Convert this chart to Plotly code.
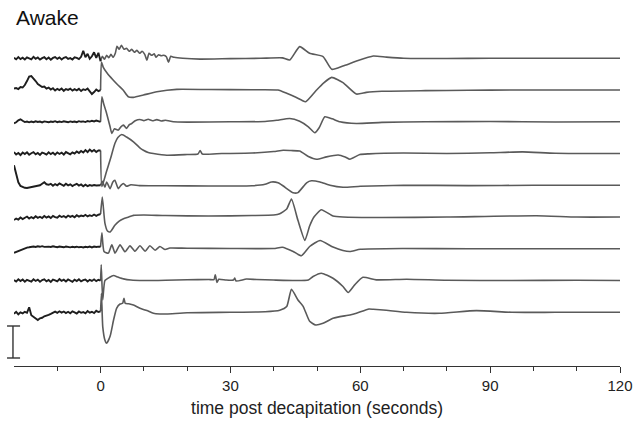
import plotly.graph_objects as go

# time grid of the noisy baseline before decapitation (seconds)
pre_t = [-20, -19.5, -19, -18.5, -18, -17.5, -17, -16.5, -16, -15.5,
         -15, -14.5, -14, -13.5, -13, -12.5, -12, -11.5, -11, -10.5,
         -10, -9.5, -9, -8.5, -8, -7.5, -7, -6.5, -6, -5.5,
         -5, -4.5, -4, -3.5, -3, -2.5, -2, -1.5, -1, -0.5]

# trace 1 (top)
pre1 = [0.5, -1, 1.2, -0.8, 0.6, -1.2, 1, 0.3, -1, 1.4, -0.5, 0.8, -1.3, 0.2, 1.1, -0.9, 0.7, -1.4, 0.4, 1.2,
        -0.6, 0.9, -1.1, 0.5, 1.3, -0.7, 0.2, -1.2, 1, 0.4, -0.8, 1.5, 7.5, 1, 4.5, -0.5, 2, 6, 0.5, 5.5]
t1 = [0, 0.4, 0.9, 1.4, 1.9, 2.4, 2.9, 3.4, 3.8, 4.3, 4.8, 5.4, 6.0, 6.6, 7.2, 7.8, 8.4, 9.0, 9.6, 10.2,
      10.7, 11.2, 11.8, 12.4, 12.8, 13.4, 14.0, 14.6, 15.2, 15.7, 16.2, 17.0, 19, 23, 30, 37, 42, 43.7, 46, 48.3,
      51.4, 53.4, 56, 59, 63, 66, 70, 80, 90, 100, 110, 120]
v1 = [-3, 2, -1, 3, 0.5, 4, 1, 5, 12, 9, 13, 9, 10, 7, 9, 6, 8, 5, 7, 4,
      -2, 5, 3, 4.5, 1, 3.5, 2.5, 3, 1.5, -4, 2, 1, 0, -0.8, -0.3, 0, 0.4, -1.7, 11.7, 5,
      1.7, -11, -7.7, -3, 2.3, 1.2, 0, -0.2, 0.1, 0, 0, 0]

# trace 2
pre2 = [1.5, 2, 1, 3, 2.5, 5, 9, 13.5, 14, 12, 9, 6, 4.5, 3, 3.5, 1.5, 2.5, 0.5, 1.8, -0.5,
        1.2, 0, 1.5, -0.8, 1, 0.2, 1.4, -0.6, 0.9, -0.3, 1.2, -1, 0.8, 0, 1.5, -1, -4, -2, 0.5, -1]
t2 = [0, 0.2, 0.6, 1.5, 2.9, 4, 5.2, 6.4, 7.6, 9.9, 13, 17.6, 25, 35, 41, 43, 45, 46.4, 47.4, 49.9,
      51.5, 53.4, 56, 59.1, 61.4, 65, 75, 85, 95, 105, 120]
v2 = [0, 28, 23, 17, 10, 5, 0, -6.7, -7.3, -5, -1.7, 0.7, 0.5, 0.3, 0, -3.3, -7, -10, -11.7, 0,
      7, 12.7, 7.5, -4, -2.3, -1.2, -0.6, -0.2, 0, 0.1, 0]

# trace 3
pre3 = [-1.5, -0.5, 1.5, 2.5, 1, -0.3, 0.3, -0.5, 0.2, -0.4, 0.5, -0.2, 0.3, -0.6, 0.4, 0, -0.5, 0.3, -0.2, 0.6,
        -0.4, 0.2, -0.3, 0.5, 0, -0.5, 0.4, -0.2, 0.3, -0.4, 0.6, 0, 0.4, -0.3, 0.8, 0.2, 1, 0.3, 1.2, 0.5]
t3 = [0, 0.3, 0.7, 1.4, 2.2, 2.6, 3.2, 4.1, 4.7, 5.3, 6, 6.6, 7.2, 8, 9.1, 10, 11, 12, 13, 14,
      15, 16.8, 20, 30, 38, 40.7, 43.7, 46, 48, 49.5, 50.5, 51.8, 53.5, 55.3, 59.1, 65, 75, 90, 105, 120]
v3 = [0, 25, 18.3, 8.3, -5, -11.7, -7, -8.3, -5, -3.3, -6.7, -3, -1.7, 1, 2.3, 1.2, 2.5, 1, 2.2, 0.8,
      1.5, 0, -0.3, 0, 0.3, 1.5, 3.3, 0.5, -5, -11, -6, 5, 3, 0, -1.7, -0.6, 0, 0.3, -0.2, 0]

# trace 4
pre4 = [1.5, -1, 0.5, -1.5, 1, -0.5, 1.2, -1.2, 0.3, 1.4, -0.8, 0.6, -1.3, 1, 0.2, -1, 1.3, -0.6, 0.8, -1.2,
        1.1, -0.4, 0.9, -1, 1.5, 0.4, -0.7, 1.2, 0, 2, 0.5, 2.5, 1, 3.5, 1.5, 4, 2, 3.5, 1.5, 3]
t4 = [0, 0.3, 1.3, 2.3, 3.3, 4, 4.9, 6, 7.6, 9, 9.9, 11, 12.2, 15.3, 20, 22.5, 23, 23.5, 28, 35,
      40, 42.2, 44, 46, 48, 49.9, 52.2, 54.9, 56.5, 57.6, 59.9, 62, 70, 80, 90, 97.5, 105, 120]
v4 = [3, -33, -19, -5, 10, 16, 19, 16.5, 11.7, 6, 3.3, 1, 0, -1.7, -1, -0.5, 3, -0.5, 0, 0.5,
      2, 3.3, 3, 2.5, -3, -5.7, -3.3, -1.5, -3.5, -5.7, -1, -0.3, 0.5, 0, 0.8, 1.7, 0.3, 0]

# trace 5
pre5 = [20, 11, 3, -0.7, -1.8, -2.5, -2.7, -2.2, -2, -1.5, -1.2, -0.8, 0, 1.5, 3, 1, 0.5, 1.5, -0.5, 1.2,
        0, 1.8, 0.2, -0.5, 1.5, 0, 1, -0.8, 0.5, 1.5, -0.3, 0.8, -1, 0.6, -0.8, 0.2, -0.4, 0.3, -0.2, 0]
t5 = [0, 0.4, 1, 1.4, 2.2, 2.8, 3.3, 4.1, 4.7, 5.3, 6, 7, 9, 15, 25, 35, 38, 39.5, 41, 42.2,
      44.5, 45.6, 47.6, 48.7, 50.7, 53, 56, 60, 70, 85, 100, 120]
v5 = [0, 4, -2, 3.3, -3.3, 3, 5, -3.3, 0, 1.7, -1, 0.5, -0.3, -0.5, -0.7, -0.5, 1, 3.3, 2.5, -0.7,
      -7.5, -7.3, 2.5, 4.5, 3.3, 0, -2, -1, 0, -0.3, 0, 0]

# trace 6
pre6 = [-3, -1.5, -2.5, -0.5, -2, -1, 0.5, -1.5, 0, -1.2, 0.8, -0.8, 0.3, -1, 1, -0.5, 0.6, -1, 1.2, 0,
        -0.6, 1.3, 0, 1, -0.4, 1.5, 0.2, 1.2, -0.2, 1.8, 0.4, 1.5, 0.8, 2.2, 0.6, 1.8, 1, 2.5, 1.2, 2.3]
t6 = [0, 0.4, 1, 1.6, 2.2, 3.3, 4.3, 5.3, 6.5, 7.6, 10, 15, 25, 35, 40, 41.4, 43, 44.1, 45.6, 47.2,
      48.3, 49.3, 51, 53.7, 56, 65, 80, 100.7, 110, 120]
v6 = [3, 20, -6, -14, -15, -8.3, -4, -1.7, 0, 1.7, 2, 1.5, 1, 1.5, 2, 3.3, 8, 18, -3.3, -23.3,
      -9, 0, 7.3, 1, 0, -0.5, 0, 1.3, 0, 0]

# trace 7
pre7 = [-4, -3, -2, -1, 0, 0.5, 1.2, 1.5, 2, 2.3, 1.8, 2.5, 2, 2.6, 1.9, 2.4, 2.2, 1.8, 2.5, 2,
        1.6, 2.3, 1.9, 1.5, 2.2, 1.8, 1.4, 2, 1.6, 2.1, 1.5, 1.9, 1.3, 2, 1.6, 2.2, 1.4, 2.3, 1.8, 2.2]
t7 = [0, 0.3, 0.8, 1.8, 2.6, 3.35, 4.5, 5.65, 6.8, 7.95, 9.1, 10.3, 11.4, 12.6, 13.7, 14.9, 16, 20, 30, 40,
      42, 44.5, 46.4, 48.3, 50.7, 53.7, 56, 57.6, 60, 70, 85, 100, 120]
v7 = [2, 16, -2.7, -4.3, 4, -4.3, 4, -3, 3, -2.5, 3, -2.5, 3, -1.5, 2.3, -0.7, 0.8, 0.5, 0.3, 0.3,
      1.5, -2.7, -7, 2.3, 8.3, 1.7, -1.7, -2.7, -0.5, 0.3, 0, 0, 0]

# trace 8
pre8 = [0.5, -1, 1.2, -0.5, 1, -1.2, 0.8, 0, -1, 1.3, -0.4, 0.9, -1.1, 0.5, 1.2, -0.8, 0.6, -1.3, 1, 0.2,
        -0.9, 1.4, -0.3, 0.8, -1, 1.1, 0, -1.2, 0.9, -0.5, 1.3, -0.8, 0.4, 1, -1, 0.7, -0.4, 1.2, -0.6, 0.8]
t8 = [0, 0.15, 0.5, 1, 2, 3, 4, 5.3, 7, 10, 15, 20, 25, 26.2, 26.5, 26.9, 27.3, 29, 30.7, 31,
      31.3, 33.7, 36, 40, 45, 48, 49.1, 51, 53.7, 56, 57.2, 58.7, 60.6, 63.7, 70.7, 80, 95, 110, 120]
v8 = [0, 15.7, -19.3, 0, 3, 5, 3.5, 1.7, 0.5, 0, 0.3, 0.8, 1, 1, 5.7, -2, 1.3, 0.5, 0.5, 2.5,
      -0.5, 1.5, 1, 0.5, 0, 0.5, 4, 7.3, 2.3, -6, -12, -4.3, 3.3, 0.7, 1.3, 0.3, 0, 0.3, 0]

# trace 9 (bottom)
pre9 = [-1.5, 0.5, -2, 0, -1, 0.5, -0.5, 5, -3, -4.5, -6.5, -7.7, -6, -5.5, -4, -3.5, -2.5, -1.5, -0.5, 0.7,
        -0.5, 1, -0.3, 0.8, -0.8, 0.5, -1, 1, 0, -1.2, 0.8, -0.5, 0.3, -1, 1.2, -0.4, 0.5, -0.8, 1.5, 0.3]
t9 = [0, 0.2, 0.5, 1, 1.4, 2.2, 3, 3.7, 4.5, 5.1, 5.4, 5.7, 6.5, 7.6, 9.1, 10.7, 12.2, 13.7, 15.3, 20,
      30, 38, 41.4, 43, 44.1, 45.6, 46.8, 48.3, 49.7, 51.4, 53.7, 55.3, 57.6, 59.1, 62, 63, 66, 70.7, 78.3, 86.8,
      95, 105, 120]
v9 = [1, 19, -14.3, -27.7, -31, -24, -7.7, 4, 8.3, 9, 14, 9, 8.5, 7.3, 4, 1.7, -1, -1.7, -1.7, -0.5,
      0, 0.5, 2, 5.7, 23, 12.3, 6, -9, -12.7, -11, -6, -4.3, -2.7, -1, 3.3, 3, 2, 0, -1, 1.7,
      0, 0, 0]

# vertical offset of each trace baseline
offsets = [307.7, 275.95, 244.2, 212.45, 180.7, 148.95, 117.2, 85.45, 53.7]

pres = [pre1, pre2, pre3, pre4, pre5, pre6, pre7, pre8, pre9]
posts_t = [t1, t2, t3, t4, t5, t6, t7, t8, t9]
posts_v = [v1, v2, v3, v4, v5, v6, v7, v8, v9]

YMAX = 336
bar_lo, bar_hi = 8, 40  # scale bar, same units as traces
FONT = "Arial, Liberation Sans, sans-serif"

fig = go.Figure()
for pre, tt, vv, off in zip(pres, posts_t, posts_v, offsets):
    # response after decapitation, smooth grey line
    fig.add_trace(go.Scatter(x=tt, y=[off + v for v in vv], mode="lines",
                             line=dict(color="#5a5a5a", width=1.6, shape="spline", smoothing=0.5),
                             hoverinfo="skip", showlegend=False))
    # noisy baseline drawn darker
    fig.add_trace(go.Scatter(x=pre_t + tt[:1], y=[off + v for v in pre + vv[:1]], mode="lines",
                             line=dict(color="#1e1e1e", width=1.9),
                             hoverinfo="skip", showlegend=False))

# scale bar
fig.add_shape(type="line", xref="paper", yref="paper", x0=-0.0017, x1=-0.0017,
              y0=bar_lo / YMAX, y1=bar_hi / YMAX, line=dict(color="#333", width=1.4))
for yy in (bar_lo, bar_hi):
    fig.add_shape(type="line", xref="paper", yref="paper", x0=-0.0115, x1=0.01,
                  y0=yy / YMAX, y1=yy / YMAX, line=dict(color="#333", width=1.4))

fig.add_annotation(text="Awake", xref="paper", yref="paper", x=0.0, y=1.036,
                   xanchor="left", yanchor="middle", showarrow=False,
                   font=dict(family=FONT, size=21, color="#111"))

fig.update_xaxes(range=[-20, 120], tickvals=[0, 30, 60, 90, 120], automargin=False,
                 ticks="outside", ticklen=6, tickcolor="#333", tickwidth=1.2,
                 minor=dict(tickvals=[-10, 10, 20, 40, 50, 70, 80, 100, 110],
                            ticks="outside", ticklen=4, tickcolor="#333", tickwidth=1.2),
                 showline=True, linecolor="#333", linewidth=1.2,
                 showgrid=False, zeroline=False,
                 tickfont=dict(family=FONT, size=15, color="#222"),
                 title=dict(text="time post decapitation (seconds)", standoff=8,
                            font=dict(family=FONT, size=17.5, color="#222")))
fig.update_yaxes(range=[0, YMAX], visible=False, showgrid=False, zeroline=False)

fig.update_layout(width=637, height=423, margin=dict(l=14, r=17, t=30, b=57),
                  plot_bgcolor="white", paper_bgcolor="white")

# drop the default page margin so the figure sits at the window origin
fig.write_html("out.html", config={"displayModeBar": False},
               post_script="document.body.style.margin='0';")
